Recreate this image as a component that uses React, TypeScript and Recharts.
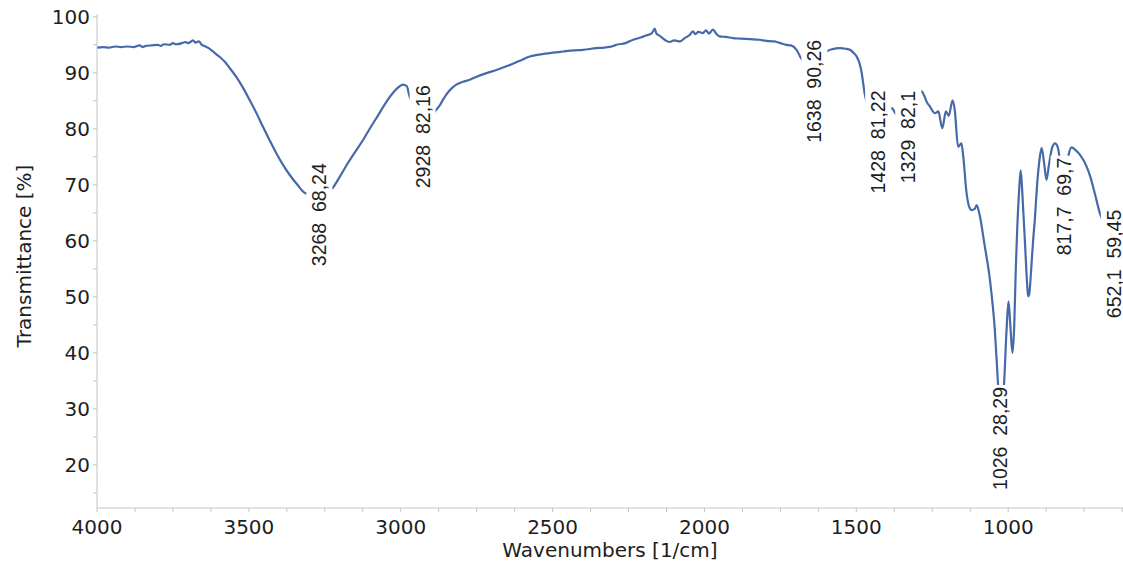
import React from "react";
import { ComposedChart, Line, Scatter, XAxis, YAxis } from "recharts";

// Spectrum (wavenumber in 1/cm, transmittance in %)
const waves = [
  4000, 3980, 3960, 3940, 3920, 3900, 3880, 3860, 3850, 3840, 3820, 3800, 3790, 3780, 3760, 3750,
  3740, 3720, 3710, 3700, 3690, 3684, 3675, 3665, 3655, 3646, 3635, 3620, 3605, 3591, 3580, 3565,
  3542, 3520, 3498, 3475, 3454, 3432, 3410, 3388, 3366, 3340, 3317, 3295, 3268, 3245, 3225, 3200,
  3175, 3150, 3124, 3100, 3070, 3050, 3026, 3010, 2993, 2980, 2971, 2955, 2940, 2928, 2910, 2895,
  2883, 2870, 2861, 2840, 2817, 2795, 2773, 2750, 2720, 2685, 2650, 2610, 2575, 2540, 2500, 2466,
  2430, 2400, 2356, 2330, 2300, 2290, 2260, 2235, 2210, 2190, 2175, 2168, 2164, 2158, 2153, 2140,
  2125, 2114, 2100, 2081, 2065, 2050, 2038, 2030, 2020, 2005, 1995, 1985, 1972, 1960, 1950, 1930,
  1906, 1880, 1850, 1820, 1796, 1770, 1750, 1730, 1715, 1697, 1683, 1665, 1650, 1638, 1625, 1610,
  1598, 1580, 1554, 1535, 1521, 1510, 1499, 1490, 1483, 1472, 1460, 1445, 1428, 1410, 1395, 1383,
  1372, 1360, 1345, 1329, 1310, 1295, 1285, 1275, 1269, 1258, 1241, 1230, 1217, 1205, 1196, 1183,
  1176, 1165, 1154, 1148, 1137, 1128, 1121, 1110, 1104, 1095, 1077, 1060, 1044, 1033, 1026, 1020,
  1014, 1005, 999, 993, 986, 980, 975, 970, 964, 959, 955, 950, 945, 940, 936, 934,
  931, 928, 923, 918, 912, 906, 898, 890, 882, 874, 866, 856, 846, 840, 835, 828,
  817.7, 810, 802, 791, 780, 764, 742, 730, 715, 698, 680, 665, 652.1,
];
const trans = [
  94.5, 94.6, 94.5, 94.7, 94.6, 94.7, 94.6, 94.9, 94.6, 94.8, 94.9, 95.0, 94.8, 95.1, 95.0, 95.3,
  95.1, 95.3, 95.5, 95.3, 95.6, 95.8, 95.4, 95.6, 95.0, 94.8, 94.5, 93.9, 93.2, 92.6, 92.0, 91.0,
  89.3, 87.4, 85.2, 82.8, 80.4, 78.0, 75.7, 73.6, 71.8, 70.0, 68.6, 68.3, 68.24, 68.6, 69.4, 71.5,
  73.8, 75.9, 78.0, 80.2, 82.8, 84.6, 86.4, 87.3, 87.9, 87.6, 85.8, 83.8, 82.6, 82.16, 82.2, 82.6,
  83.4, 84.3, 85.2, 86.8, 87.9, 88.4, 88.75, 89.3, 89.9, 90.5, 91.2, 92.1, 92.9, 93.3, 93.6, 93.8,
  94.0, 94.1, 94.4, 94.5, 94.8, 95.0, 95.3, 95.9, 96.3, 96.7, 97.0, 97.5, 97.9, 97.0, 96.8, 96.3,
  95.7, 95.5, 95.8, 95.6, 96.2, 96.7, 97.4, 96.9, 97.3, 97.1, 97.6, 97.0, 97.7, 96.9, 96.5, 96.4,
  96.2, 96.1, 96.0, 95.9, 95.7, 95.6, 95.3, 95.0, 94.9, 94.1, 92.7, 91.4, 90.6, 90.26, 90.9, 92.6,
  93.8, 94.2, 94.4, 94.3, 94.1, 93.6, 92.9, 91.8, 90.2, 86.1, 83.8, 82.2, 81.22, 82.0, 83.0, 83.7,
  82.8, 82.3, 82.1, 82.1, 83.8, 86.0, 86.7, 85.7, 84.9, 84.0, 82.8, 83.1, 80.1, 83.1, 82.3, 85.1,
  83.4, 76.8, 77.4, 75.1, 68.5, 66.0, 65.5, 65.7, 66.4, 64.9, 59.0, 53.0, 44.1, 34.0, 28.29, 29.5,
  34.0, 44.5, 49.2, 45.0, 40.0, 45.0, 55.0, 62.5, 69.0, 72.6, 70.0, 65.0, 60.0, 54.5, 51.0, 50.1,
  50.4, 52.0, 56.0, 60.0, 64.0, 69.1, 74.0, 76.6, 74.0, 70.9, 73.5, 76.5, 77.4, 77.1, 76.3, 73.5,
  69.7, 72.0, 75.1, 76.7, 76.3, 75.4, 73.3, 71.5, 68.5, 64.9, 62.5, 60.8, 59.45,
];

// Peak annotations
const peakWaves = [3268, 2928, 1638, 1428, 1329, 1026, 817.7, 652.1];
const peakTrans = [68.24, 82.16, 90.26, 81.22, 82.1, 28.29, 69.7, 59.45];

// Axis ticks
const xTicks = [
  4000, 3875, 3750, 3625, 3500, 3375, 3250, 3125, 3000, 2875, 2750, 2625, 2500, 2375, 2250, 2125,
  2000, 1875, 1750, 1625, 1500, 1375, 1250, 1125, 1000, 875, 750, 625,
];
const xLabelTicks = [4000, 3500, 3000, 2500, 2000, 1500, 1000];
const yTicks = [15, 20, 25, 30, 35, 40, 45, 50, 55, 60, 65, 70, 75, 80, 85, 90, 95, 100];
const yLabelTicks = [20, 30, 40, 50, 60, 70, 80, 90, 100];

const spectrum = waves.map((w, i) => ({ w, t: trans[i] }));
const peaks = peakWaves.map((w, i) => ({ w, t: peakTrans[i] }));

const LINE_COLOR = "#4669aa";
const AXIS_COLOR = "#c4c4c4";
const TEXT_COLOR = "#1e1e1e";
const AXIS_FONT = "'DejaVu Sans', Verdana, sans-serif";
const LABEL_FONT = "'Liberation Sans', Arial, sans-serif";
const LABEL_SIZE = 19.5;

const fmt = (v: number) => String(v).replace(".", ",");

const textLen = (s: string, fs: number) => {
  let em = 0;
  for (const ch of s) {
    if (ch >= "0" && ch <= "9") em += 0.556;
    else em += 0.278;
  }
  return em * fs;
};

const PeakLabel = (props: any) => {
  const { cx, cy, payload } = props;
  if (cx == null || cy == null) return null;
  const text = `${fmt(payload.w)}  ${fmt(payload.t)}`;
  const len = textLen(text, LABEL_SIZE);
  const mid = cy + 20;
  return (
    <g>
      <rect x={cx - 13} y={mid - len / 2 - 2} width={26} height={len + 4} fill="#ffffff" />
      <text
        x={cx}
        y={mid}
        transform={`rotate(-90, ${cx}, ${mid})`}
        textAnchor="middle"
        dominantBaseline="central"
        fontFamily={LABEL_FONT}
        fontSize={LABEL_SIZE}
        fill={TEXT_COLOR}
        style={{ whiteSpace: "pre" }}
      >
        {text}
      </text>
    </g>
  );
};

const XTick = (props: any) => {
  const { x, y, payload } = props;
  if (!xLabelTicks.includes(payload.value)) return <g />;
  return (
    <text x={x} y={y} dy="0.71em" textAnchor="middle" fontFamily={AXIS_FONT} fontSize={20} fill={TEXT_COLOR}>
      {payload.value}
    </text>
  );
};

const YTick = (props: any) => {
  const { x, y, payload } = props;
  if (!yLabelTicks.includes(payload.value)) return <g />;
  return (
    <text x={x} y={y} dy="0.36em" textAnchor="end" fontFamily={AXIS_FONT} fontSize={20} fill={TEXT_COLOR}>
      {payload.value}
    </text>
  );
};

const XTitle = (props: any) => {
  const vb = props.viewBox || {};
  return (
    <text
      x={vb.x + vb.width / 2}
      y={vb.y + 49}
      textAnchor="middle"
      fontFamily={AXIS_FONT}
      fontSize={20}
      fill={TEXT_COLOR}
    >
      Wavenumbers [1/cm]
    </text>
  );
};

const YTitle = (props: any) => {
  const vb = props.viewBox || {};
  const cx = 24;
  const cy = vb.y + vb.height / 2 - 5;
  return (
    <text
      x={cx}
      y={cy}
      transform={`rotate(-90, ${cx}, ${cy})`}
      textAnchor="middle"
      dominantBaseline="central"
      fontFamily={AXIS_FONT}
      fontSize={20}
      fill={TEXT_COLOR}
    >
      Transmittance [%]
    </text>
  );
};

export default function App() {
  return (
    <div style={{ position: "absolute", left: 0, top: 0, width: 1123, height: 572, background: "#ffffff" }}>
      <ComposedChart width={1123} height={572} margin={{ top: 14, right: 0, bottom: 0, left: 0 }}>
        <XAxis
          type="number"
          dataKey="w"
          domain={[622, 4000]}
          reversed
          ticks={xTicks}
          interval={0}
          height={64}
          tickSize={4}
          tickMargin={8}
          axisLine={{ stroke: AXIS_COLOR }}
          tickLine={{ stroke: AXIS_COLOR }}
          tick={<XTick />}
          label={<XTitle />}
        />
        <YAxis
          type="number"
          domain={[12.3, 100.5]}
          ticks={yTicks}
          interval={0}
          width={97}
          tickSize={4}
          tickMargin={3}
          axisLine={{ stroke: AXIS_COLOR }}
          tickLine={{ stroke: AXIS_COLOR }}
          tick={<YTick />}
          label={<YTitle />}
        />
        <Line
          data={spectrum}
          dataKey="t"
          type="monotone"
          stroke={LINE_COLOR}
          strokeWidth={2.2}
          dot={false}
          activeDot={false}
          isAnimationActive={false}
        />
        <Scatter data={peaks} dataKey="t" shape={<PeakLabel />} isAnimationActive={false} />
      </ComposedChart>
    </div>
  );
}
